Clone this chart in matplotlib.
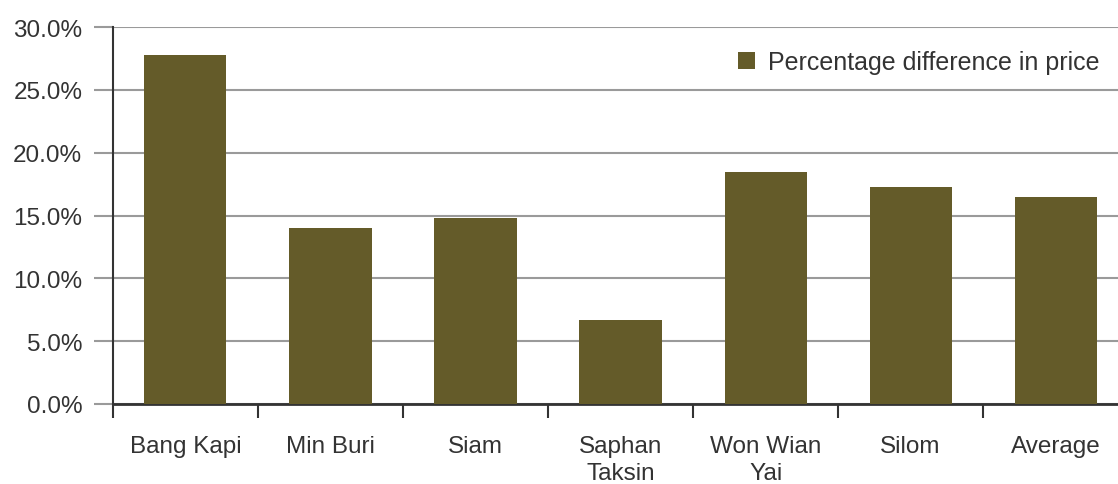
import matplotlib.pyplot as plt
from matplotlib.ticker import FuncFormatter

categories = ["Bang Kapi", "Min Buri", "Siam", "Saphan\nTaksin", "Won Wian\nYai", "Silom", "Average"]
pct_diff = [27.8, 14.0, 14.8, 6.7, 18.5, 17.3, 16.5]

plt.rcParams['font.family'] = ['Liberation Sans', 'DejaVu Sans']

fig = plt.figure(figsize=(11.18, 4.85), dpi=100)
ax = fig.add_axes([0.101, 0.165, 0.899, 0.777])

x = list(range(len(categories)))
ax.bar(x, pct_diff, width=0.566, color="#645b29", label="Percentage difference in price", zorder=3)

ax.set_ylim(0, 30)
# last category is slightly cut off at the right edge, as in the original
ax.set_xlim(-0.5, 6.43)
ax.set_yticks([0, 5, 10, 15, 20, 25, 30])
ax.yaxis.set_major_formatter(FuncFormatter(lambda v, p: "%.1f%%" % v))
ax.yaxis.grid(True, color="#9a9a9a", linewidth=1.5, zorder=0)
ax.tick_params(axis="y", length=14, width=1.5, color="#9a9a9a", pad=8, labelsize=17.5, labelcolor="#333333")

# category labels centered, ticks on the boundaries
ax.set_xticks(x)
ax.set_xticklabels(categories, fontsize=17.5, color="#333333", linespacing=1.3)
ax.tick_params(axis="x", which="major", length=0, pad=22)
ax.set_xticks([i - 0.5 for i in range(len(categories))], minor=True)
ax.tick_params(axis="x", which="minor", length=10, width=1.5, color="#333333")

for s in ["top", "right"]:
    ax.spines[s].set_visible(False)
ax.spines["left"].set_color("#333333")
ax.spines["left"].set_linewidth(1.5)
ax.spines["bottom"].set_color("#333333")
ax.spines["bottom"].set_linewidth(2)

leg = ax.legend(loc="upper right", bbox_to_anchor=(0.999, 0.985), frameon=False, fontsize=18,
                handlelength=0.7, handleheight=0.7, handletextpad=0.5, labelcolor="#333333",
                borderaxespad=0.3)

fig.savefig("out.png", dpi=100)
